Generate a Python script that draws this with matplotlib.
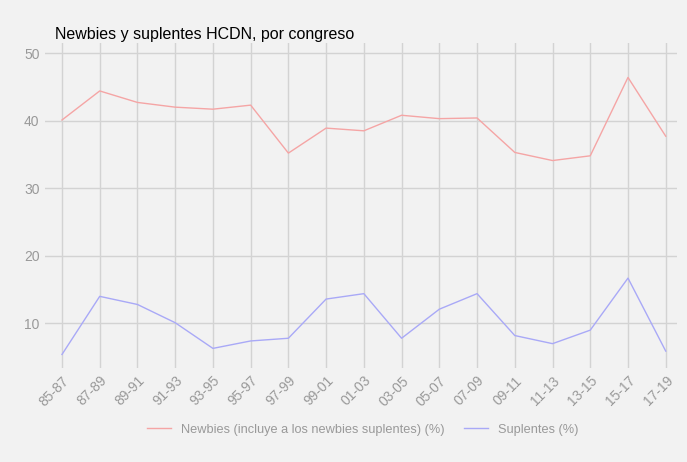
import matplotlib
matplotlib.use("Agg")
import matplotlib.pyplot as plt

plt.rcParams['font.family'] = ['Liberation Sans', 'DejaVu Sans']

congresos = ["85-87", "87-89", "89-91", "91-93", "93-95", "95-97", "97-99", "99-01",
             "01-03", "03-05", "05-07", "07-09", "09-11", "11-13", "13-15", "15-17", "17-19"]
newbies = [40.1, 44.4, 42.7, 42.0, 41.7, 42.3, 35.2, 38.9,
           38.5, 40.8, 40.3, 40.4, 35.3, 34.1, 34.8, 46.4, 37.7]
suplentes = [5.4, 14.0, 12.8, 10.1, 6.3, 7.4, 7.8, 13.6,
             14.4, 7.8, 12.1, 14.4, 8.2, 7.0, 9.0, 16.7, 5.9]

bg = '#f2f2f2'
grid_c = '#d3d3d3'
tick_c = '#999999'

fig = plt.figure(figsize=(6.87, 4.62), dpi=100, facecolor=bg)
ax = fig.add_axes([0.0655, 0.2035, 0.92, 0.7035], facecolor=bg)

x = list(range(len(congresos)))
ax.plot(x, newbies, color='#f5a5a5', linewidth=1.0,
        label='Newbies (incluye a los newbies suplentes) (%)')
ax.plot(x, suplentes, color='#a9a9f7', linewidth=1.0, label='Suplentes (%)')

ax.set_xlim(-0.45, 16.3)
ax.set_ylim(3.4, 51.5)
ax.set_yticks([10, 20, 30, 40, 50])
ax.set_xticks(x)
ax.set_xticklabels(congresos, rotation=45, ha='right', rotation_mode='anchor')

ax.grid(True, color=grid_c, linewidth=1.0)
ax.set_axisbelow(True)
for s in ax.spines.values():
    s.set_visible(False)
ax.tick_params(axis='both', colors=tick_c, labelsize=10, length=0)
ax.tick_params(axis='x', pad=4)
ax.tick_params(axis='y', pad=4)

fig.text(0.08, 0.91, 'Newbies y suplentes HCDN, por congreso', fontsize=11.5,
         color='black', ha='left', va='bottom')

leg = fig.legend(loc='center', bbox_to_anchor=(0.528, 0.07), ncol=2, frameon=False,
                 fontsize=9.2, handlelength=1.9, handletextpad=0.8, columnspacing=1.5)
for t in leg.get_texts():
    t.set_color(tick_c)

fig.savefig('out.png', dpi=100, facecolor=bg)
